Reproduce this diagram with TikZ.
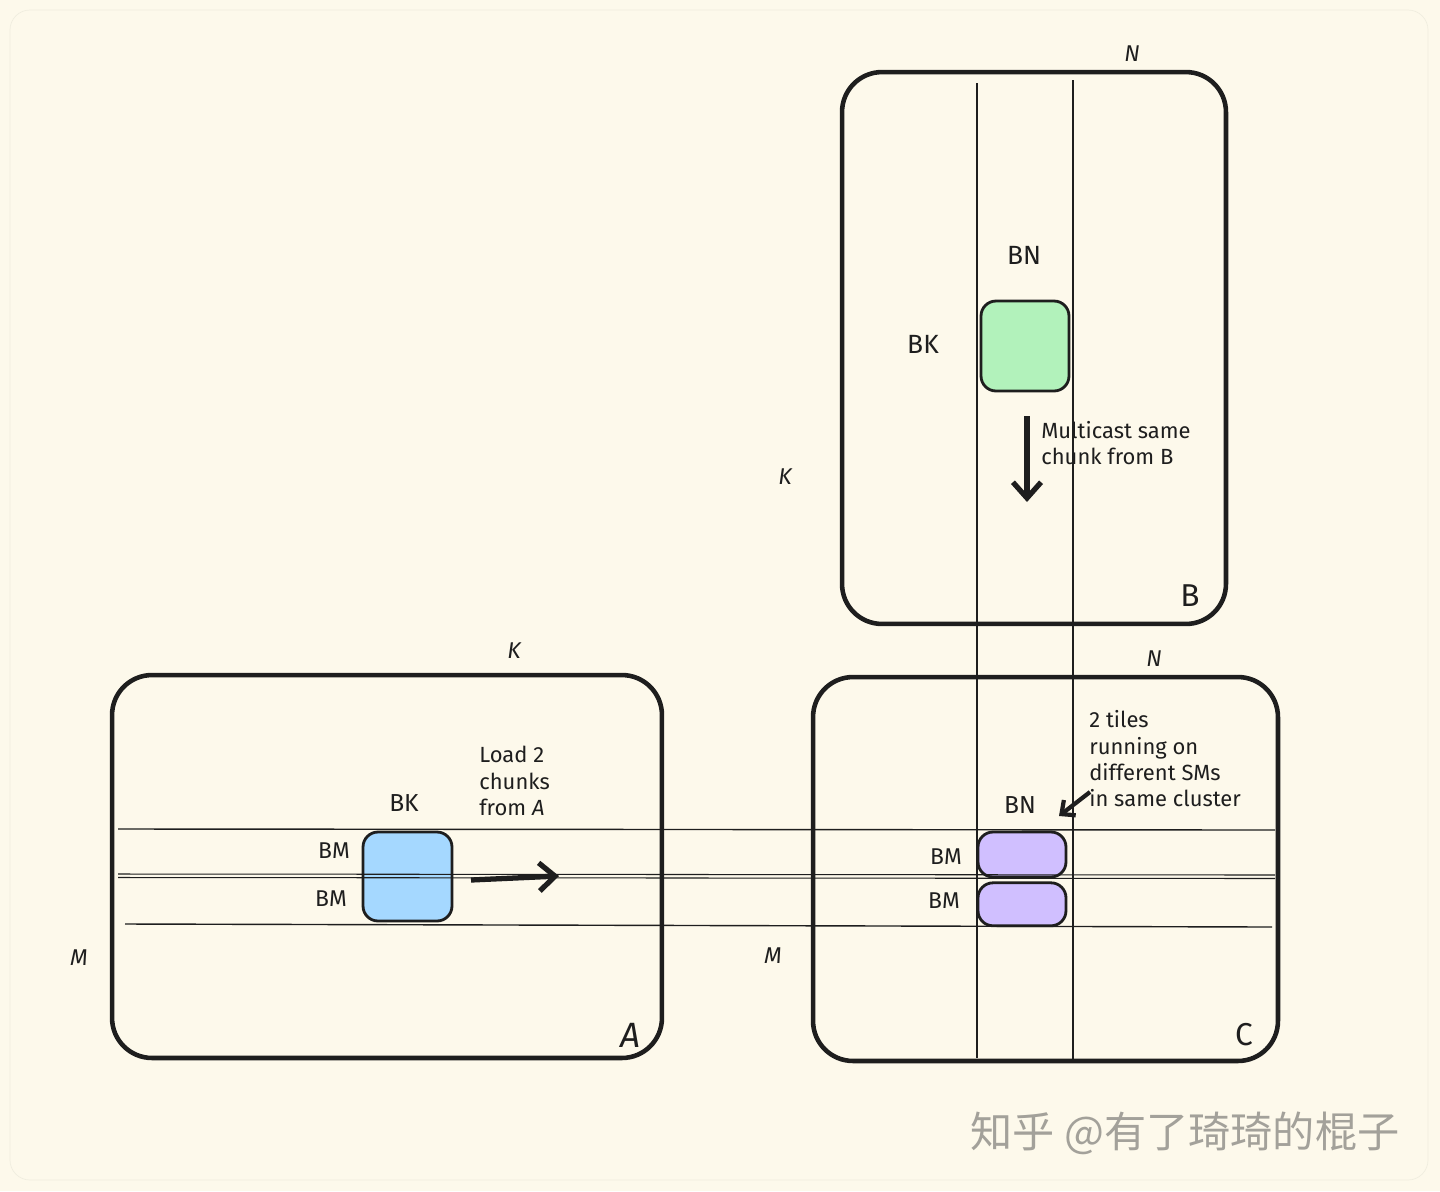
\documentclass[tikz,border=0pt]{standalone}
\usepackage{fontspec}
\setmainfont{Fira Sans}
\newfontfamily\cjk{Noto Sans CJK SC}
\usetikzlibrary{arrows.meta,positioning}

\definecolor{paper}{HTML}{FDF9EB}
\definecolor{ink}{HTML}{1E1E1E}
\definecolor{tileblue}{HTML}{A5D8FF}
\definecolor{tilegreen}{HTML}{B2F2BB}
\definecolor{tilepurple}{HTML}{D0BFFF}
\definecolor{stamp}{HTML}{A3A19A}

\begin{document}
\begin{tikzpicture}[
    x=0.02cm, y=-0.02cm,
    matrixbox/.style={rectangle, rounded corners=0.8cm, draw=ink, line width=2.6pt, inner sep=0pt},
    tile/.style={rectangle, rounded corners=0.3cm, draw=ink, line width=1.6pt, inner sep=0pt},
    gridline/.style={draw=ink, line width=0.8pt},
    dimlabel/.style={font=\fontsize{13}{15}\selectfont\itshape, text=ink},
    blocklabel/.style={font=\fontsize{15}{17}\selectfont, text=ink},
    namelabel/.style={font=\fontsize{18}{20}\selectfont, text=ink},
    note/.style={font=\fontsize{12.5}{15}\selectfont, text=ink, align=left, anchor=west, inner sep=0pt},
    arrow/.style={-{Straight Barb[length=9pt,width=16pt]}, line width=3pt, draw=ink}
]
    % Paper
    \fill[paper] (0,0) rectangle (1440,1191);
    \useasboundingbox (0,0) rectangle (1440,1191);
    \draw[paper!95!black, line width=0.4pt, rounded corners=0.4cm] (10,10) rectangle (1428,1180);

    % Matrices
    \node[matrixbox, minimum width=7.68cm, minimum height=11.04cm] (B) at (1034,348) {};
    \node[matrixbox, minimum width=11cm, minimum height=7.66cm] (A) at (387,866.5) {};
    \node[matrixbox, minimum width=9.3cm, minimum height=7.68cm] (C) at (1045.5,869) {};

    % Tiles
    \node[tile, fill=tilegreen, minimum width=1.76cm, minimum height=1.8cm] (tileB) at (1025,346) {};
    \node[tile, fill=tileblue, minimum width=1.78cm, minimum height=1.78cm] (tileA) at (407.5,876.5) {};
    \node[tile, fill=tilepurple, minimum width=1.76cm, minimum height=0.9cm] (tileC1) at (1022,854.5) {};
    \node[tile, fill=tilepurple, minimum width=1.76cm, minimum height=0.86cm, below=0.06cm of tileC1] (tileC2) {};

    % Grid lines
    \draw[gridline] (977,83) -- (977,1058);
    \draw[gridline] (1073,80) -- (1073,1060);
    \draw[gridline] (118,829) -- (1275,830);
    \draw[gridline, line width=0.6pt] (118,874) -- (1275,875);
    \draw[gridline, line width=0.6pt] (118,877.5) -- (1275,878.5);
    \draw[gridline] (125,924) -- (1272,927);

    % Labels of B
    \node[dimlabel] (nB) at (1132,54) {N};
    \node[dimlabel] (kB) at (785,477) {K};
    \node[blocklabel] (bnB) at (1024,255) {BN};
    \node[blocklabel] (bkB) at (923,344) {BK};
    \node[namelabel] (nameB) at (1190,596) {B};
    \node[note] (castNote) at (1041,443) {Multicast same\\chunk from B};

    % Labels of A
    \node[dimlabel] (kA) at (514,651) {K};
    \node[dimlabel] (mA) at (79,958) {M};
    \node[blocklabel, font=\fontsize{14}{16}\selectfont] (bkA) at (404,803) {BK};
    \node[blocklabel, font=\fontsize{13}{15}\selectfont] (bmA1) at (334,851) {BM};
    \node[blocklabel, font=\fontsize{13}{15}\selectfont] (bmA2) at (331,899) {BM};
    \node[namelabel, font=\fontsize{20}{22}\selectfont\itshape] (nameA) at (630,1035) {A};
    \node[note] (loadNote) at (479,781) {Load 2\\chunks\\from \textit{A}};

    % Labels of C
    \node[dimlabel] (nC) at (1154,659) {N};
    \node[dimlabel] (mC) at (773,956) {M};
    \node[blocklabel, font=\fontsize{14}{16}\selectfont] (bnC) at (1020,805) {BN};
    \node[blocklabel, font=\fontsize{13}{15}\selectfont] (bmC1) at (946,857) {BM};
    \node[blocklabel, font=\fontsize{13}{15}\selectfont] (bmC2) at (944,901) {BM};
    \node[namelabel] (nameC) at (1244,1035) {C};
    \node[note] (tileNote) at (1089,759) {2 tiles\\running on\\different SMs\\in same cluster};

    % Arrows
    \coordinate (castFrom) at (1027,416);
    \coordinate (castTo) at (1027,502);
    \draw[arrow] (castFrom) -- (castTo);
    \coordinate (loadFrom) at (471,880);
    \coordinate (loadTo) at (559,876);
    \draw[arrow] (loadFrom) -- (loadTo);
    \coordinate (tileFrom) at (1090,792);
    \coordinate (tileTo) at (1059,816);
    \draw[arrow, line width=2.4pt, -{Straight Barb[length=6pt,width=11pt]}] (tileFrom) -- (tileTo);

    % Watermark
    \node[font=\cjk\fontsize{24}{26}\selectfont, text=stamp] (credit) at (1185,1133) {知乎 @有了琦琦的棍子};
\end{tikzpicture}
\end{document}
